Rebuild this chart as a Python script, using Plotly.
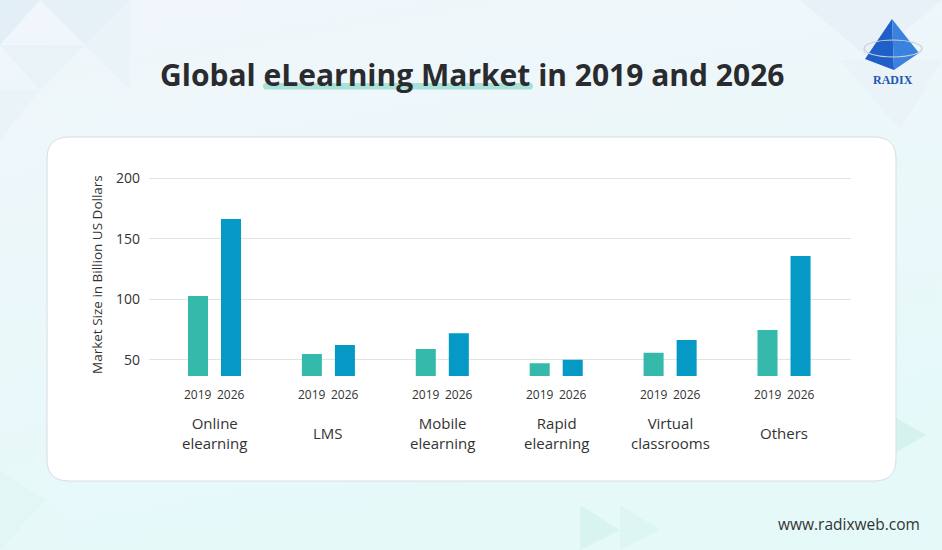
import base64
import plotly.graph_objects as go

# ---------------- data ----------------
categories = ["Online<br>elearning", "LMS", "Mobile<br>elearning",
              "Rapid<br>elearning", "Virtual<br>classrooms", "Others"]
years = ["2019", "2026"]
values_2019 = [102.8, 55.0, 59.1, 47.3, 56.0, 74.8]
values_2026 = [166.3, 62.4, 72.0, 50.2, 66.5, 135.8]
y_ticks = [50, 100, 150, 200]

title_text = "Global eLearning Market in 2019 and 2026"
y_title = "Market Size in Billion US Dollars"
site_text = "www.radixweb.com"
logo_text = "RADIX"

# ---------------- geometry helpers ----------------
W, H = 942, 550
L, R, T, B = 149, 91, 172, 174
PW, PH = W - L - R, H - T - B


def px(xp):
    return (xp - L) / PW


def py(yp):
    return (H - B - yp) / PH


def rounded_rect(x0, y0, x1, y1, r):
    pts = [
        f"M {px(x0 + r)},{py(y0)}",
        f"L {px(x1 - r)},{py(y0)}",
        f"Q {px(x1)},{py(y0)} {px(x1)},{py(y0 + r)}",
        f"L {px(x1)},{py(y1 - r)}",
        f"Q {px(x1)},{py(y1)} {px(x1 - r)},{py(y1)}",
        f"L {px(x0 + r)},{py(y1)}",
        f"Q {px(x0)},{py(y1)} {px(x0)},{py(y1 - r)}",
        f"L {px(x0)},{py(y0 + r)}",
        f"Q {px(x0)},{py(y0)} {px(x0 + r)},{py(y0)}",
        "Z",
    ]
    return " ".join(pts)


def poly(points):
    return "M " + " L ".join(f"{px(a)},{py(b)}" for a, b in points) + " Z"


# ---------------- decorative background (svg) ----------------
svg = f"""<svg xmlns='http://www.w3.org/2000/svg' width='{W}' height='{H}' viewBox='0 0 {W} {H}'>
<defs><linearGradient id='g' x1='0' y1='0' x2='0.3' y2='1'>
<stop offset='0' stop-color='#f1f6fb'/><stop offset='1' stop-color='#e5f9f9'/></linearGradient></defs>
<rect width='{W}' height='{H}' fill='url(#g)'/>
<polygon points='0,0 40,0 0,45' fill='#dcecf4' opacity='0.7'/>
<polygon points='40,0 130,0 85,45' fill='#e3eff6' opacity='0.8'/>
<polygon points='0,45 85,45 40,90' fill='#e6f1f6' opacity='0.8'/>
<polygon points='85,45 130,0 130,90' fill='#e9f3f8' opacity='0.8'/>
<polygon points='0,90 40,90 0,140' fill='#e8f3f7' opacity='0.8'/>
<polygon points='40,90 130,90 85,140' fill='#eef6f9' opacity='0.8'/>
<polygon points='800,0 942,0 870,60' fill='#e6eef6' opacity='0.7'/>
<polygon points='840,60 942,60 900,130' fill='#e9f1f7' opacity='0.7'/>
<polygon points='580,505 620,530 580,550' fill='#d6f3ef' opacity='0.9'/>
<polygon points='620,505 660,530 620,550' fill='#dcf5f2' opacity='0.9'/>
<polygon points='896,418 926,435 896,452' fill='#d2f1ec' opacity='0.9'/>
<polygon points='0,470 45,500 0,550' fill='#e0f5f4' opacity='0.8'/>
<polygon points='45,500 90,550 0,550' fill='#e6f7f6' opacity='0.8'/>
</svg>"""
svg_uri = "data:image/svg+xml;base64," + base64.b64encode(svg.encode()).decode()

# ---------------- figure ----------------
fig = go.Figure()
fig.add_trace(go.Bar(x=categories, y=values_2019, name=years[0],
                     marker_color="#35b9aa", marker_line_width=0))
fig.add_trace(go.Bar(x=categories, y=values_2026, name=years[1],
                     marker_color="#0599c6", marker_line_width=0))

font_family = "Open Sans, Lato, sans-serif"

annotations = []
# year labels beneath each bar and category labels beneath each group
for cat in categories:
    for yr, shift in zip(years, (-16.5, 16.5)):
        annotations.append(dict(
            x=cat, xref="x", y=0, yref="paper", yanchor="top", xanchor="center",
            xshift=shift, yshift=-8, text=yr, showarrow=False,
            font=dict(size=12, color="#333333", family=font_family)))
    annotations.append(dict(
        x=cat, xref="x", y=py(433), yref="paper", yanchor="middle", xanchor="center",
        text=cat, showarrow=False, align="center",
        font=dict(size=15, color="#333333", family=font_family)))

annotations += [
    dict(x=px(472), y=py(75), xref="paper", yref="paper", text=title_text,
         showarrow=False, xanchor="center", yanchor="middle",
         font=dict(size=30, color="#2a2b2e", family=font_family, weight=700)),
    dict(x=px(97), y=py(275), xref="paper", yref="paper", text=y_title,
         textangle=-90, showarrow=False, xanchor="center", yanchor="middle",
         font=dict(size=13.5, color="#333333", family=font_family)),
    dict(x=px(922), y=py(524), xref="paper", yref="paper", text=site_text,
         showarrow=False, xanchor="right", yanchor="middle",
         font=dict(size=15.5, color="#333333", family=font_family)),
    dict(x=px(893), y=py(80), xref="paper", yref="paper", text=f"<b>{logo_text}</b>",
         showarrow=False, xanchor="center", yanchor="middle",
         font=dict(size=12, color="#1d56b0", family="Liberation Serif, DejaVu Serif, serif")),
]

shapes = [
    # white rounded panel
    dict(type="path", path=rounded_rect(47, 137, 896, 481, 22), xref="paper", yref="paper",
         fillcolor="#ffffff", line=dict(color="#d8dde2", width=1), layer="below"),
    # title highlight
    dict(type="path", path=rounded_rect(263, 83, 533, 89.5, 3), xref="paper", yref="paper",
         fillcolor="#a9e0d8", line=dict(width=0), layer="below"),
    # logo pyramid
    dict(type="path", path=poly([(892, 19), (865, 59), (894, 70)]), xref="paper", yref="paper",
         fillcolor="#1f5fc8", line=dict(width=0)),
    dict(type="path", path=poly([(892, 19), (894, 70), (919, 53)]), xref="paper", yref="paper",
         fillcolor="#3a82e0", line=dict(width=0)),
    dict(type="circle", x0=px(864), x1=px(922), y0=py(40), y1=py(57), xref="paper", yref="paper",
         line=dict(color="#c9ccd2", width=1.2), fillcolor="rgba(0,0,0,0)"),
]

fig.update_layout(
    width=W, height=H,
    margin=dict(l=L, r=R, t=T, b=B, autoexpand=False),
    paper_bgcolor="#eef7fa", plot_bgcolor="rgba(0,0,0,0)",
    barmode="group", bargap=0.42, bargroupgap=0.394,
    showlegend=False,
    font=dict(family=font_family, color="#333333"),
    xaxis=dict(type="category", range=[-0.575, 5.588], showgrid=False, zeroline=False,
               showline=False, ticks="", showticklabels=False, automargin=False),
    yaxis=dict(range=[36.8, 205], tickvals=y_ticks, showgrid=True, gridcolor="#e1e3e6",
               gridwidth=1, zeroline=False, showline=False, ticks="",
               ticklabelstandoff=8, tickfont=dict(size=14, color="#333333"), automargin=False),
    annotations=annotations,
    shapes=shapes,
    images=[dict(source=svg_uri, xref="paper", yref="paper", x=px(0), y=py(0),
                 sizex=W / PW, sizey=H / PH, xanchor="left", yanchor="top",
                 sizing="stretch", layer="below")],
)

fig.write_html("out.html", config={"displayModeBar": False},
               post_script="document.body.style.margin='0';document.body.style.overflow='hidden';")
